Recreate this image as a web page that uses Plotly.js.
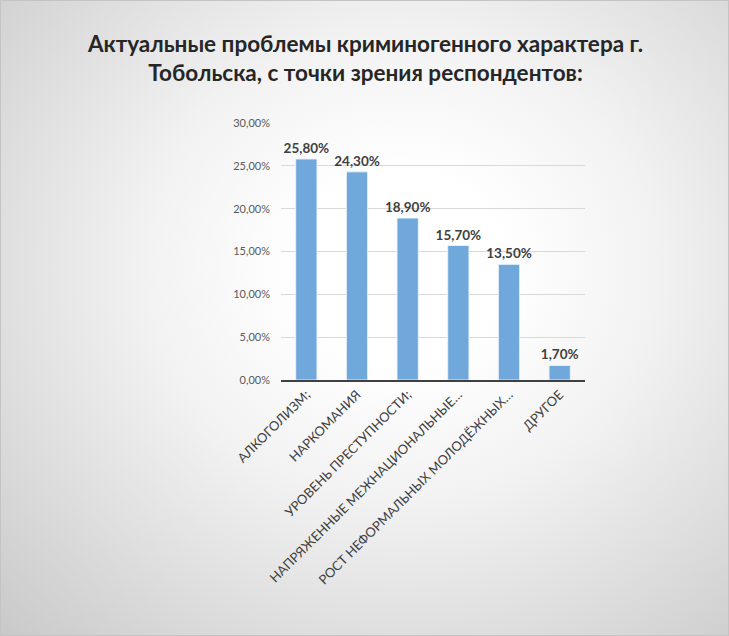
<!DOCTYPE html>
<html>
<head>
<meta charset="utf-8">
<script src="https://cdn.plot.ly/plotly-3.0.1.min.js"></script>
<style>
  html, body { margin: 0; padding: 0; }
  #chart {
    width: 729px;
    height: 636px;
    box-sizing: border-box;
    border: 1px solid #c4c4c4;
    background: radial-gradient(ellipse farthest-corner at 55% 42%, #ffffff 18%, #f2f2f2 45%, #c9c9c9 100%);
  }
</style>
</head>
<body>
<div id="chart"></div>
<script>
// categories as shown on the axis (already shortened in the original)
var categories = [
    'АЛКОГОЛИЗМ;',
    'НАРКОМАНИЯ',
    'УРОВЕНЬ ПРЕСТУПНОСТИ;',
    'НАПРЯЖЕННЫЕ МЕЖНАЦИОНАЛЬНЫЕ…',
    'РОСТ НЕФОРМАЛЬНЫХ МОЛОДЁЖНЫХ…',
    'ДРУГОЕ'
];
var shares = [0.258, 0.243, 0.189, 0.157, 0.135, 0.017];
var chartTitle = 'Актуальные проблемы криминогенного характера г.<br>Тобольска, с точки зрения респондентов:';

var fontFamily = "Lato, 'Open Sans', sans-serif";

var trace = {
    type: 'bar',
    x: categories,
    y: shares,
    width: 0.42,
    marker: {
        color: '#71a8db',
        line: { color: 'rgba(235,243,251,0.9)', width: 1 }
    },
    texttemplate: '%{y:.2%}',
    textposition: 'outside',
    constraintext: 'none',
    textfont: { family: fontFamily, size: 13.5, color: '#404040', weight: 'bold' },
    cliponaxis: false,
    hoverinfo: 'x+y'
};

var layout = {
    width: 729,
    height: 636,
    separators: ', ',
    paper_bgcolor: 'rgba(0,0,0,0)',
    plot_bgcolor: 'rgba(0,0,0,0)',
    margin: { l: 280, r: 145, t: 122, b: 257 },
    font: { family: fontFamily, color: '#595959' },
    showlegend: false,
    title: {
        text: chartTitle,
        xref: 'container',
        x: 0.5,
        yref: 'container',
        y: 0.92,
        yanchor: 'top',
        font: { family: fontFamily, size: 22.5, color: '#262626', weight: 'bold' }
    },
    xaxis: {
        type: 'category',
        tickangle: -45,
        tickfont: { size: 13, color: '#404040' },
        showline: true,
        linecolor: '#404040',
        linewidth: 2,
        ticks: '',
        showgrid: false,
        fixedrange: true
    },
    yaxis: {
        range: [0, 0.30],
        dtick: 0.05,
        tickformat: '.2%',
        tickfont: { size: 11, color: '#595959' },
        showgrid: true,
        gridcolor: '#d9d9d9',
        gridwidth: 1,
        zeroline: false,
        showline: false,
        ticks: '',
        ticklabelstandoff: 10,
        fixedrange: true
    },
    bargap: 0.58
};

var config = { displayModeBar: false, staticPlot: true };

Plotly.newPlot('chart', [trace], layout, config);
</script>
</body>
</html>
